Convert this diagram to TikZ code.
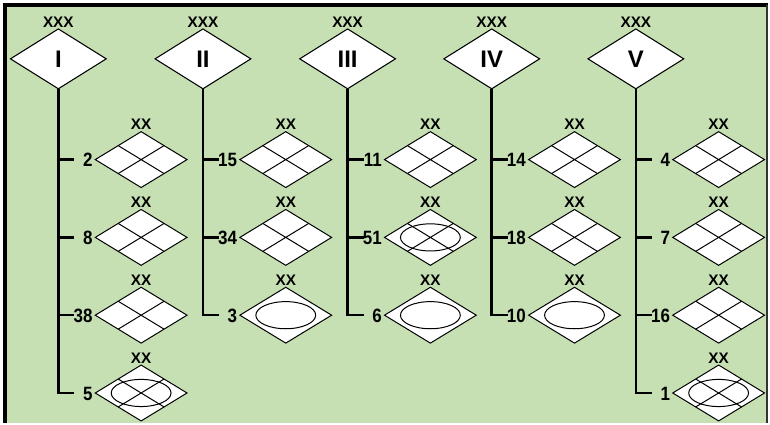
\documentclass[tikz,border=0pt]{standalone}
\usepackage{fontspec}
\setmainfont{Liberation Sans}
\newfontfamily\condfont[FakeStretch=0.88]{Liberation Sans}
\usetikzlibrary{shapes.geometric}
\definecolor{bggreen}{HTML}{C6E0B4}
\newcommand\crossin[1]{\draw[innerline] (#1.north west) -- (#1.south east) (#1.north east) -- (#1.south west);}
\newcommand\ellin[1]{\draw[innerline] (#1.center) ellipse [x radius=22.5pt, y radius=10.2pt];}
% #1 name, #2 stem x, #3 row y, #4 number
\newcommand\sdia[4]{%
  \node[smalld] (#1) at ({#2+83},#3) {};
  \node[toplbl] (#1x) at ({#2+83},{#3-35}) {XX};
  \coordinate (#1s) at (#2,#3);
  \coordinate (#1t) at ({#2+16},#3);
  \node[numlbl] (#1n) at ({#2+34.5},{#3+0.5}) {#4};
}
\newcommand\bdia[3]{%
  \node[bigd] (#1) at (#2,59) {#3};
  \node[toplbl] (#1x) at (#2,22.5) {XXX};
}
\begin{document}
\begin{tikzpicture}[x=0.75pt,y=-0.75pt,
  bigd/.style={diamond, draw=black, line width=0.8pt, fill=white, minimum width=72pt, minimum height=45pt, inner sep=0pt, outer sep=0pt, font=\fontsize{18}{18}\selectfont\bfseries},
  smalld/.style={diamond, draw=black, line width=0.75pt, fill=white, minimum width=69pt, minimum height=42pt, inner sep=0pt, outer sep=0pt},
  stem/.style={line width=1.9pt},
  innerline/.style={line width=0.75pt},
  toplbl/.style={font=\fontsize{11.5}{13}\selectfont\bfseries, inner sep=0pt},
  numlbl/.style={font=\condfont\fontsize{14.5}{16}\selectfont\bfseries, inner sep=0pt, anchor=east}
]
\fill[white] (0,0) rectangle (770,424);
\fill[bggreen] (5,5) rectangle (770,424);
\draw[line width=3pt] (5.3,424) -- (5.3,4.7) -- (770,4.7);
\draw[line width=1.1pt, black!80] (769.2,4.7) -- (769.2,424);

% column I
\bdia{B1}{58.5}{I}
\sdia{a1}{58.5}{160}{2} \crossin{a1}
\sdia{a2}{58.5}{238}{8} \crossin{a2}
\sdia{a3}{58.5}{316}{38} \crossin{a3}
\sdia{a4}{58.5}{394}{5} \crossin{a4} \ellin{a4}
\draw[stem] (B1.south) |- (a4t);
\foreach \r in {a1,a2,a3} \draw[stem] (\r s) -- (\r t);

% column II
\bdia{B2}{203.5}{II}
\sdia{b1}{203.5}{160}{15} \crossin{b1}
\sdia{b2}{203.5}{238}{34} \crossin{b2}
\sdia{b3}{203.5}{316}{3} \ellin{b3}
\draw[stem] (B2.south) |- (b3t);
\foreach \r in {b1,b2} \draw[stem] (\r s) -- (\r t);

% column III
\bdia{B3}{348.5}{III}
\sdia{c1}{348.5}{160}{11} \crossin{c1}
\sdia{c2}{348.5}{238}{51} \crossin{c2} \ellin{c2}
\sdia{c3}{348.5}{316}{6} \ellin{c3}
\draw[stem] (B3.south) |- (c3t);
\foreach \r in {c1,c2} \draw[stem] (\r s) -- (\r t);

% column IV
\bdia{B4}{493}{IV}
\sdia{d1}{493}{160}{14} \crossin{d1}
\sdia{d2}{493}{238}{18} \crossin{d2}
\sdia{d3}{493}{316}{10} \ellin{d3}
\draw[stem] (B4.south) |- (d3t);
\foreach \r in {d1,d2} \draw[stem] (\r s) -- (\r t);

% column V
\bdia{B5}{637.5}{V}
\sdia{e1}{637.5}{160}{4} \crossin{e1}
\sdia{e2}{637.5}{238}{7} \crossin{e2}
\sdia{e3}{637.5}{316}{16} \crossin{e3}
\sdia{e4}{637.5}{394}{1} \crossin{e4} \ellin{e4}
\draw[stem] (B5.south) |- (e4t);
\foreach \r in {e1,e2,e3} \draw[stem] (\r s) -- (\r t);
\end{tikzpicture}
\end{document}
